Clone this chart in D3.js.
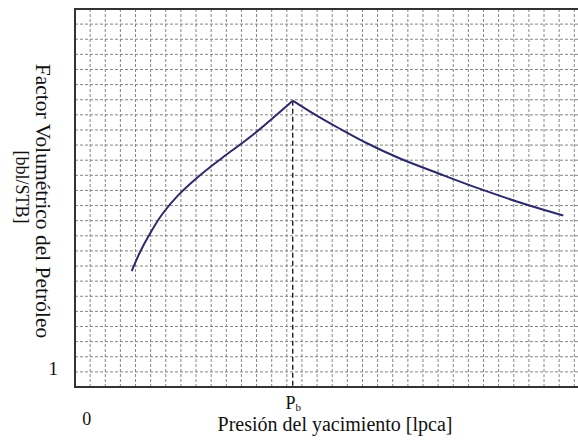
<!DOCTYPE html>
<html>
<head>
<meta charset="utf-8">
<script src="https://cdn.jsdelivr.net/npm/d3@7"></script>
<style>
  body { margin: 0; background: #fff; }
  text { font-family: "Liberation Serif", "Times New Roman", serif; fill: #111; }
</style>
</head>
<body>
<svg id="chart"></svg>
<script>
// ---- data (grid cell units) ----
// bajo Pb: el petróleo se encoge a medida que sale el gas
let pressBelow = [3.75, 4.30, 4.96, 5.75, 6.81, 8.13, 9.72, 11.57, 14.39]
let boBelow    = [7.67, 8.93, 10.15, 11.41, 12.67, 13.89, 15.15, 16.53, 18.94]
// sobre Pb: expansión del líquido subsaturado
let pressAbove = [14.39, 15.73, 17.51, 19.30, 21.48, 24.12, 26.77, 29.41, 32.27]
let boAbove    = [18.94, 18.10, 17.08, 16.12, 15.11, 14.09, 13.10, 12.20, 11.34]

let pb = 14.39
let xTickVals = [0.75, pb]
let xTickLabels = ['0', 'Pb']
let yTickVals = [1.2]
let yTickLabels = ['1']

// ---- layout ----
let W = 578, H = 441
let mLeft = 75, mTop = 9, mBottom = 387
let cell = 15.13

let svg = d3.select('#chart').attr('width', W).attr('height', H)

let x = d3.scaleLinear().domain([0, (W - mLeft) / cell]).range([mLeft, W])
let y = d3.scaleLinear().domain([0, 25]).range([mBottom, mTop])

// grid
let grid = svg.append('g').attr('class', 'grid')
grid.selectAll('line.v').data(d3.range(1, 34))
  .enter().append('line').attr('class', 'v')
  .attr('x1', d => x(d)).attr('x2', d => x(d))
  .attr('y1', y(0)).attr('y2', y(25))
grid.selectAll('line.h').data(d3.range(1, 25))
  .enter().append('line').attr('class', 'h')
  .attr('x1', x(0)).attr('x2', W)
  .attr('y1', d => y(d)).attr('y2', d => y(d))
grid.selectAll('line')
  .attr('stroke', '#858585').attr('stroke-dasharray', '3,2')

// marco (sin borde derecho)
let frame = svg.append('g')
frame.append('line').attr('x1', x(0)).attr('x2', W).attr('y1', y(25)).attr('y2', y(25))
frame.append('line').attr('x1', x(0)).attr('x2', W).attr('y1', y(0)).attr('y2', y(0))
frame.append('line').attr('x1', x(0)).attr('x2', x(0)).attr('y1', y(25) - 1).attr('y2', y(0) + 1)
frame.selectAll('line').attr('stroke', '#333').attr('stroke-width', 2)

// Pb dashed line
svg.append('line')
  .attr('x1', x(pb)).attr('x2', x(pb))
  .attr('y1', y(boBelow[boBelow.length - 1])).attr('y2', y(0))
  .attr('stroke', '#222').attr('stroke-width', 1.4)
  .attr('stroke-dasharray', '5,3')

// curve
let line = d3.line()
  .x(d => x(d[0])).y(d => y(d[1]))
  .curve(d3.curveCatmullRom.alpha(0.5))

let segs = [d3.zip(pressBelow, boBelow), d3.zip(pressAbove, boAbove)]
svg.selectAll('path.bo').data(segs)
  .enter().append('path')
  .attr('class', 'bo')
  .attr('d', line)
  .attr('fill', 'none')
  .attr('stroke', '#2d2a6c')
  .attr('stroke-width', 2)
  .attr('stroke-linejoin', 'round')

// axes (only labels)
let xAxis = svg.append('g')
  .attr('transform', `translate(0,${mBottom})`)
  .call(d3.axisBottom(x).tickValues(xTickVals).tickSize(0).tickPadding(9)
    .tickFormat((d, i) => xTickLabels[i]))
xAxis.select('.domain').remove()
xAxis.selectAll('text')
  .attr('font-size', 18).attr('fill', '#111')
  .attr('font-family', '"Liberation Serif", serif')
  .each(function(d, i) {
    if (xTickLabels[i] == 'Pb') {
      let t = d3.select(this).text('P')
      t.append('tspan').attr('font-size', 11).attr('dy', 2).text('b')
    } else {
      // el cero va más abajo que Pb
      d3.select(this).attr('y', 25)
    }
  })

let yAxis = svg.append('g')
  .attr('transform', `translate(${mLeft},0)`)
  .call(d3.axisLeft(y).tickValues(yTickVals).tickSize(0).tickPadding(17)
    .tickFormat((d, i) => yTickLabels[i]))
yAxis.select('.domain').remove()
yAxis.selectAll('text')
  .attr('font-size', 19).attr('fill', '#111')
  .attr('font-family', '"Liberation Serif", serif')

// titles
svg.append('text')
  .attr('x', 335).attr('y', 431)
  .attr('text-anchor', 'middle')
  .attr('font-size', 20)
  .text('Presión del yacimiento [lpca]')

svg.append('text')
  .attr('transform', 'translate(36,201) rotate(90)')
  .attr('text-anchor', 'middle')
  .attr('font-size', 21.5)
  .text('Factor Volumétrico del Petróleo')

svg.append('text')
  .attr('transform', 'translate(16,187) rotate(90)')
  .attr('text-anchor', 'middle')
  .attr('font-size', 18)
  .text('[bbl/STB]')
</script>
</body>
</html>
